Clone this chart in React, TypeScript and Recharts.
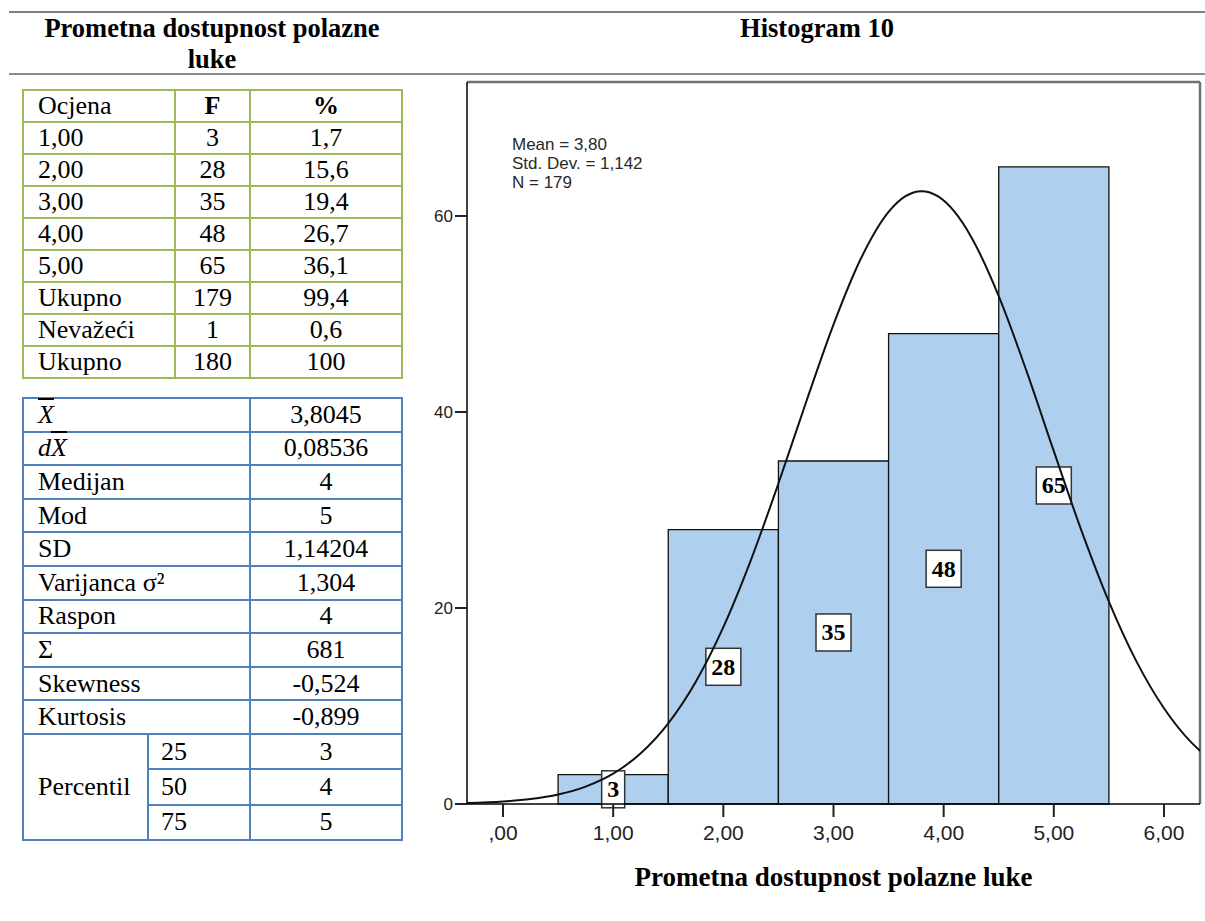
import React from 'react'
import {
  ComposedChart, Line, XAxis, YAxis, ReferenceArea, ReferenceLine,
} from 'recharts'

// frequency table
const gradeLabels = ['1,00', '2,00', '3,00', '4,00', '5,00', 'Ukupno', 'Nevažeći', 'Ukupno']
const gradeF = ['3', '28', '35', '48', '65', '179', '1', '180']
const gradePct = ['1,7', '15,6', '19,4', '26,7', '36,1', '99,4', '0,6', '100']

// descriptive stats
const statLabels = ['X', 'dX', 'Medijan', 'Mod', 'SD', 'Varijanca σ²', 'Raspon', 'Σ', 'Skewness', 'Kurtosis']
const statValues = ['3,8045', '0,08536', '4', '5', '1,14204', '1,304', '4', '681', '-0,524', '-0,899']
const percentiles = ['25', '50', '75']
const percentileValues = ['3', '4', '5']

// histogram
const binStart = [0.5, 1.5, 2.5, 3.5, 4.5]
const binEnd = [1.5, 2.5, 3.5, 4.5, 5.5]
const counts = [3, 28, 35, 48, 65]

// fitted normal curve
const curveX = [-0.33, 0, 0.25, 0.5, 0.75, 1, 1.25, 1.5, 1.75, 2, 2.25, 2.5, 2.75, 3, 3.25, 3.5, 3.65, 3.8, 3.95, 4.1, 4.25, 4.5, 4.75, 5, 5.25, 5.5, 5.75, 6, 6.25, 6.33]
const curveY = [0.09, 0.25, 0.5, 0.96, 1.77, 3.09, 5.17, 8.23, 12.48, 18.05, 24.89, 32.7, 40.97, 48.92, 55.68, 60.41, 61.99, 62.53, 61.99, 60.41, 57.86, 51.82, 44.24, 36.0, 27.92, 20.65, 14.55, 9.77, 6.26, 5.4]

const xTicks = [0, 1, 2, 3, 4, 5, 6]
const xTickLabels = [',00', '1,00', '2,00', '3,00', '4,00', '5,00', '6,00']
const yTicks = [0, 20, 40, 60]

const X_MIN = -0.327
const X_MAX = 6.327
const Y_MAX = 73.67

const curveData = curveX.map((x, i) => ({ x, y: curveY[i] }))

const serif = "'Liberation Serif', 'Times New Roman', serif"
const sans = "'Liberation Sans', Arial, sans-serif"
const narrow = "'Liberation Sans Narrow', 'Arial Narrow', 'Liberation Sans', sans-serif"

const GREEN = '#9bbb59'
const BLUE = '#4f81bd'

function BinLabel({ viewBox, value }: any) {
  if (!viewBox) return null
  const cx = viewBox.x + viewBox.width / 2
  const cy = viewBox.y + viewBox.height / 2
  const s = String(value)
  const w = s.length * 12 + 11
  const h = 37
  return (
    <g>
      <rect x={cx - w / 2} y={cy - h / 2} width={w} height={h} fill="#fff" stroke="#333" strokeWidth={1.5} />
      <text x={cx} y={cy + 8} textAnchor="middle" fontFamily={serif} fontWeight="bold" fontSize={24} fill="#000">{s}</text>
    </g>
  )
}

function Xbar({ d }: { d?: boolean }) {
  return (
    <span style={{ fontStyle: 'italic' }}>
      {d ? 'd' : ''}
      <span style={{ textDecoration: 'overline' }}>X</span>
    </span>
  )
}

const cell: React.CSSProperties = { padding: 0, textAlign: 'center', lineHeight: '28px' }

export default function App() {
  return (
    <div style={{ position: 'absolute', left: 0, top: 0, width: 1205, height: 921, background: '#fff', fontFamily: serif, overflow: 'hidden' }}>
      <div style={{ position: 'absolute', left: 9, top: 11, width: 1196, borderTop: '2px solid #808080' }} />
      <div style={{ position: 'absolute', left: 9, top: 73, width: 1196, borderTop: '2px solid #8a8a8a' }} />
      <div style={{ position: 'absolute', left: 9, top: 13, width: 406, textAlign: 'center', fontWeight: 'bold', fontSize: 26.5, lineHeight: '31px' }}>
        Prometna dostupnost polazne<br />luke
      </div>
      <div style={{ position: 'absolute', left: 701, top: 13, width: 232, textAlign: 'center', fontWeight: 'bold', fontSize: 26.5, lineHeight: '31px' }}>
        Histogram 10
      </div>

      <table style={{ position: 'absolute', left: 22, top: 89, borderCollapse: 'collapse', tableLayout: 'fixed', width: 381, fontSize: 26, border: `2px solid ${GREEN}` }}>
        <colgroup><col style={{ width: 152 }} /><col style={{ width: 75 }} /><col style={{ width: 152 }} /></colgroup>
        <tbody>
          <tr style={{ height: 32 }}>
            <td style={{ ...cell, textAlign: 'left', paddingLeft: 14, border: `2px solid ${GREEN}` }}>Ocjena</td>
            <td style={{ ...cell, fontWeight: 'bold', border: `2px solid ${GREEN}` }}>F</td>
            <td style={{ ...cell, fontWeight: 'bold', border: `2px solid ${GREEN}` }}>%</td>
          </tr>
          {gradeLabels.map((g, i) => (
            <tr key={i} style={{ height: 32 }}>
              <td style={{ ...cell, textAlign: 'left', paddingLeft: 14, border: `2px solid ${GREEN}` }}>{g}</td>
              <td style={{ ...cell, border: `2px solid ${GREEN}` }}>{gradeF[i]}</td>
              <td style={{ ...cell, border: `2px solid ${GREEN}` }}>{gradePct[i]}</td>
            </tr>
          ))}
        </tbody>
      </table>

      <table style={{ position: 'absolute', left: 22, top: 397, borderCollapse: 'collapse', tableLayout: 'fixed', width: 381, fontSize: 26, border: `2px solid ${BLUE}` }}>
        <colgroup><col style={{ width: 125 }} /><col style={{ width: 102 }} /><col style={{ width: 152 }} /></colgroup>
        <tbody>
          {statLabels.map((s, i) => (
            <tr key={i} style={{ height: 33.6 }}>
              <td colSpan={2} style={{ ...cell, textAlign: 'left', paddingLeft: 14, border: `2px solid ${BLUE}` }}>
                {i === 0 ? <Xbar /> : i === 1 ? <Xbar d /> : s}
              </td>
              <td style={{ ...cell, border: `2px solid ${BLUE}` }}>{statValues[i]}</td>
            </tr>
          ))}
          {percentiles.map((p, i) => (
            <tr key={p} style={{ height: 35.3 }}>
              {i === 0 && (
                <td rowSpan={3} style={{ ...cell, textAlign: 'left', paddingLeft: 14, border: `2px solid ${BLUE}` }}>Percentil</td>
              )}
              <td style={{ ...cell, textAlign: 'left', paddingLeft: 12, border: `2px solid ${BLUE}` }}>{p}</td>
              <td style={{ ...cell, border: `2px solid ${BLUE}` }}>{percentileValues[i]}</td>
            </tr>
          ))}
        </tbody>
      </table>

      <div style={{ position: 'absolute', left: 400, top: 76 }}>
        <ComposedChart width={805} height={845} data={curveData} margin={{ top: 6, right: 5, bottom: 27, left: 0 }}>
          <XAxis
            dataKey="x" type="number" domain={[X_MIN, X_MAX]} allowDataOverflow ticks={xTicks}
            tickFormatter={(v: number) => xTickLabels[xTicks.indexOf(v)] ?? ''}
            tickSize={13} tickMargin={8} height={90}
            axisLine={{ stroke: '#000', strokeWidth: 1.5 }} tickLine={{ stroke: '#222', strokeWidth: 2 }}
            tick={{ fill: '#222', fontSize: 21, fontFamily: narrow }}
            label={{ value: 'Prometna dostupnost polazne luke', position: 'insideBottom', offset: 8, fill: '#000', fontSize: 27, fontWeight: 'bold', fontFamily: serif }}
          />
          <YAxis
            type="number" domain={[0, Y_MAX]} allowDataOverflow ticks={yTicks} width={67}
            tickSize={12} tickMargin={2}
            axisLine={{ stroke: '#000', strokeWidth: 1.5 }} tickLine={{ stroke: '#222', strokeWidth: 2 }}
            tick={{ fill: '#222', fontSize: 17, fontFamily: sans }}
          />
          {counts.map((c, i) => (
            <ReferenceArea
              key={i} x1={binStart[i]} x2={binEnd[i]} y1={0} y2={c}
              fill="#aecfee" fillOpacity={1} stroke="#111" strokeWidth={1.3}
              label={(props: any) => <BinLabel {...props} value={c} />}
            />
          ))}
          <ReferenceLine y={Y_MAX} stroke="#6f6f6f" strokeWidth={2.5} />
          <ReferenceLine x={X_MAX} stroke="#6f6f6f" strokeWidth={2.5} />
          <Line dataKey="y" type="monotone" dot={false} stroke="#111" strokeWidth={2} isAnimationActive={false} />
        </ComposedChart>
      </div>

      <div style={{ position: 'absolute', left: 512, top: 135, fontFamily: sans, fontSize: 17, lineHeight: '19px', color: '#2a2a2a' }}>
        Mean = 3,80<br />Std. Dev. = 1,142<br />N = 179
      </div>
    </div>
  )
}
